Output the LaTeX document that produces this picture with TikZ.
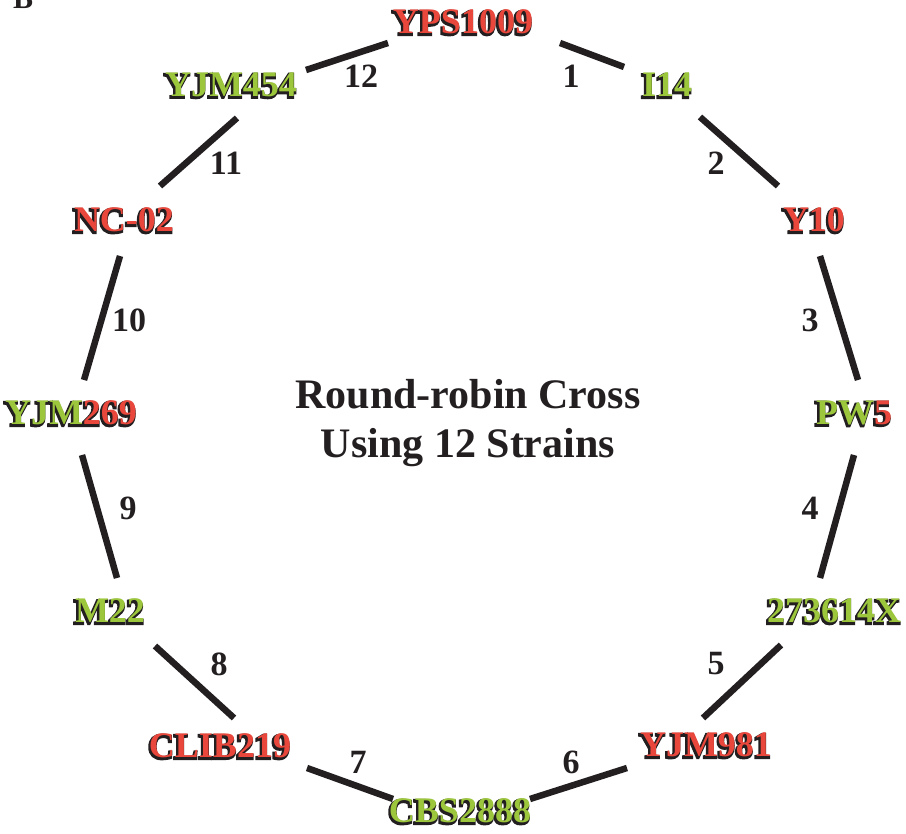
\documentclass[tikz,border=0pt]{standalone}
\usepackage{fontspec}
\setmainfont{Liberation Serif}
\newfontfamily\strainfont[BoldFeatures={FakeBold=7}]{Liberation Serif}
\definecolor{ink}{HTML}{231F20}
\definecolor{sred}{HTML}{E9473B}
\definecolor{sgreen}{HTML}{9CC63C}
\newcommand\red[1]{{\color{sred}#1}}
\newcommand\grn[1]{{\color{sgreen}#1}}
\tikzset{
  strain/.style={font=\fontsize{36}{40}\selectfont\bfseries, inner sep=0pt},
  strainshadow/.style={font=\fontsize{36}{40}\selectfont\strainfont\bfseries, inner sep=0pt,
     text=ink, xshift=-1.2pt, yshift=-1pt,
     execute at begin node={\let\red\relax\let\grn\relax}},
  num/.style={font=\fontsize{34}{38}\selectfont\bfseries, text=ink, inner sep=0pt},
  edge/.style={draw=ink, line width=6.5pt, line cap=butt},
}
% #1 name, #2 position, #3 text (coloured parts in \red / \grn)
\newcommand\strainlabel[3]{%
  \node[strainshadow] (#1o) at #2 {#3};
  \node[strain] (#1) at #2 {#3};
}
\begin{document}
\begin{tikzpicture}[x=1pt,y=-1pt]
\useasboundingbox (0,0) rectangle (906,834);

\node[font=\fontsize{30}{34}\selectfont\bfseries, anchor=base west, inner sep=0pt, text=ink] (panel) at (13,9) {B};

\strainlabel{s1}{(463,22)}{\red{YPS1009}}
\strainlabel{s2}{(667,85)}{\grn{I14}}
\strainlabel{s3}{(814,220)}{\red{Y10}}
\strainlabel{s4}{(854,413)}{\grn{PW}\red{5}}
\strainlabel{s5}{(834,611)}{\grn{273614X}}
\strainlabel{s6}{(706,745)}{\red{YJM981}}
\strainlabel{s7}{(460,811)}{\grn{CBS2888}}
\strainlabel{s8}{(220,746)}{\red{CLIB219}}
\strainlabel{s9}{(110,611)}{\grn{M22}}
\strainlabel{s10}{(71,413)}{\grn{YJM}\red{269}}
\strainlabel{s11}{(124,220)}{\red{NC-02}}
\strainlabel{s12}{(231,85)}{\grn{YJM454}}

\node[font=\fontsize{42}{49}\selectfont\bfseries, align=center, text=ink, inner sep=0pt] (title) at (468,423) {Round-robin Cross\\Using 12 Strains};

% connectors
\draw[edge] ([shift={(97,21)}]s1.center) -- ([shift={(-43,-18)}]s2.center);
\draw[edge] ([shift={(33,32)}]s2.center) -- ([shift={(-36,-34)}]s3.center);
\draw[edge] ([shift={(6,36)}]s3.center) -- ([shift={(4,-33)}]s4.center);
\draw[edge] ([shift={(0,42)}]s4.center) -- ([shift={(-14,-33)}]s5.center);
\draw[edge] ([shift={(-53,34)}]s5.center) -- ([shift={(-3,-27)}]s6.center);
\draw[edge] ([shift={(-79,23)}]s6.center) -- ([shift={(70,-12)}]s7.center);
\draw[edge] ([shift={(-67,-12)}]s7.center) -- ([shift={(87,22)}]s8.center);
\draw[edge] ([shift={(14,-28)}]s8.center) -- ([shift={(45,35)}]s9.center);
\draw[edge] ([shift={(7,-33)}]s9.center) -- ([shift={(11,42)}]s10.center);
\draw[edge] ([shift={(13,-33)}]s10.center) -- ([shift={(-4,36)}]s11.center);
\draw[edge] ([shift={(36,-34)}]s11.center) -- ([shift={(6,33)}]s12.center);
\draw[edge] ([shift={(75,-15)}]s12.center) -- ([shift={(-75,21)}]s1.center);

% connector numbers
\node[num] (n1) at (571,76) {1};
\node[num] (n2) at (716,163) {2};
\node[num] (n3) at (810,320) {3};
\node[num] (n4) at (810,508) {4};
\node[num] (n5) at (716,664) {5};
\node[num] (n6) at (571,762) {6};
\node[num] (n7) at (358,762) {7};
\node[num] (n8) at (219,664) {8};
\node[num] (n9) at (128,508) {9};
\node[num] (n10) at (129,320) {10};
\node[num] (n11) at (226,163) {11};
\node[num] (n12) at (361,76) {12};
\end{tikzpicture}
\end{document}
